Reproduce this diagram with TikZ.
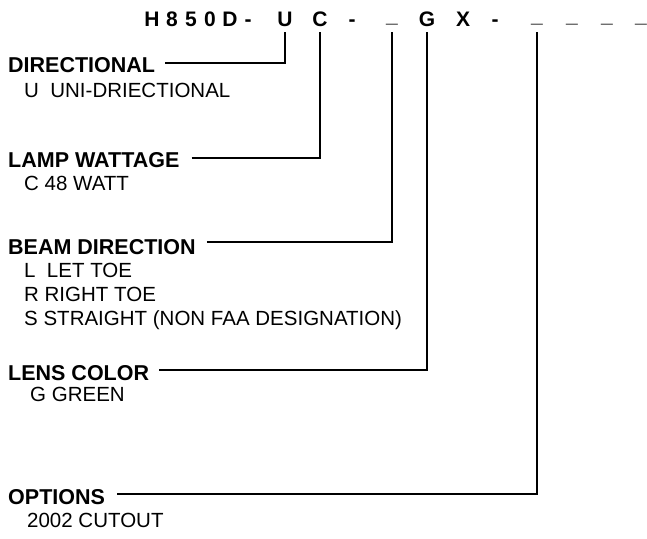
\documentclass[tikz,border=0pt]{standalone}
\usepackage{fontspec}
\setmainfont{Liberation Sans}
\usetikzlibrary{positioning}
\tikzset{
  codechar/.style={font=\fontsize{21}{25}\selectfont\bfseries, inner sep=0pt, anchor=base},
  heading/.style={font=\fontsize{21.5}{25}\selectfont\bfseries, inner sep=0pt, anchor=base west},
  choice/.style={font=\fontsize{20.5}{24}\selectfont, inner sep=0pt, anchor=base west},
  leader/.style={line width=1.9pt},
}
\newcommand{\blank}{\raisebox{5pt}{\_}}

\begin{document}
\begin{tikzpicture}[x=1pt, y=-1pt]
  \useasboundingbox (0,0) rectangle (647,538);
  % Part number, one character per node
  \foreach \x/\c/\n in {152/H/cH, 172/8/c8, 191/5/c5, 210/0/c0, 230/D/cD, 248/-/cDashA,
                        285/U/cU, 320/C/cC, 352/-/cDashB, 392/\blank/cBeam, 427/G/cG, 463/X/cX,
                        495/-/cDashC, 537/\blank/cOptA, 572/\blank/cOptB, 607/\blank/cOptC, 641/\blank/cOptD} {
    \node[codechar] (\n) at (\x,27) {\c};
  }
  % Headings and their choices
  \node[heading] (dir) at (8,72) {DIRECTIONAL};
  \node[choice] (dirU) at (24,97) {U\ \ UNI-DRIECTIONAL};

  \node[heading] (lamp) at (8,167) {LAMP WATTAGE};
  \node[choice] (lampC) at (24,190) {C 48 WATT};

  \node[heading] (beam) at (8,254) {BEAM DIRECTION};
  \node[choice] (beamL) at (24,277) {L\ \ LET TOE};
  \node[choice] (beamR) at (24,301) {R RIGHT TOE};
  \node[choice] (beamS) at (24,325) {S STRAIGHT (NON FAA DESIGNATION)};

  \node[heading] (lens) at (8,380) {LENS COLOR};
  \node[choice] (lensG) at (30,401) {G GREEN};

  \node[heading] (opt) at (8,504) {OPTIONS};
  \node[choice] (optC) at (27,527) {2002 CUTOUT};
  % Leaders from heading to character
  \draw[leader] ([xshift=10pt,yshift=2pt]dir.east) -| ([yshift=-5pt]cU.base);
  \draw[leader] ([xshift=12pt,yshift=2pt]lamp.east) -| ([yshift=-5pt]cC.base);
  \draw[leader] ([xshift=11pt,yshift=5pt]beam.east) -| ([yshift=-5pt]cBeam.base);
  \draw[leader] ([xshift=10pt,yshift=3pt]lens.east) -| ([yshift=-5pt]cG.base);
  \draw[leader] ([xshift=12pt,yshift=3pt]opt.east) -| ([yshift=-5pt]cOptA.base);
\end{tikzpicture}
\end{document}
